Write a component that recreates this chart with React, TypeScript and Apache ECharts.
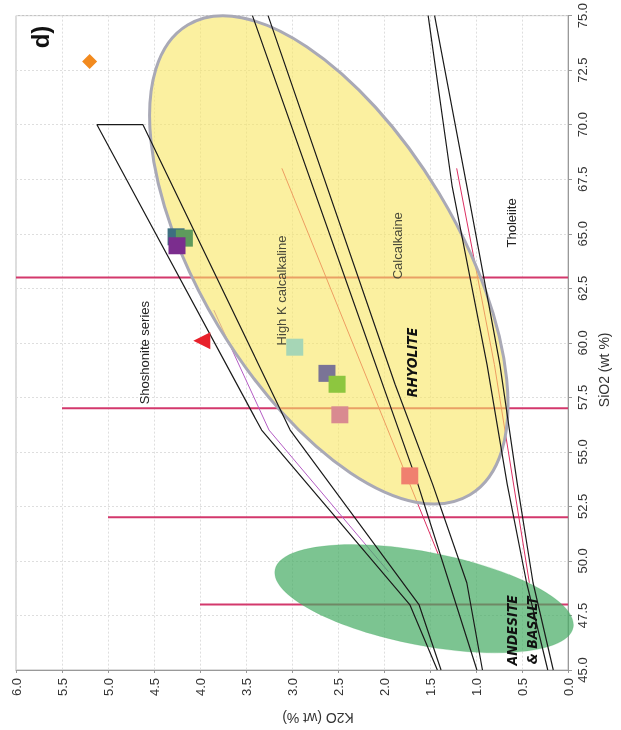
import React, { useEffect, useRef } from "react";
import * as echarts from "echarts";

// ---- data (K2O wt%, SiO2 wt%) ----
const siO2Cuts = [48, 52, 57, 63];
const cutTopK2O = [4.0, 5.0, 5.5, 6.0];

const shoshoniteUpper = [[1.42, 45], [1.72, 48], [3.33, 56], [5.12, 70]];
const shoshoniteLower = [[1.38, 45], [1.62, 48], [3.02, 56], [4.62, 70]];
const highKUpper = [[0.99, 45], [1.63, 53.5], [3.43, 75]];
const highKLower = [[0.93, 45], [1.1, 49], [1.47, 53.5], [1.88, 58.1], [3.26, 75]];
const tholeiiteUpper = [[0.22, 45], [0.45, 49], [0.66, 53.5], [0.88, 59], [1.26, 67.2], [1.52, 75]];
const tholeiiteLower = [[0.16, 45], [0.38, 49], [0.55, 53.5], [0.74, 59], [1.1, 67.2], [1.45, 75]];
const pinkShoshonite = [[1.95, 49.5], [3.25, 56], [3.85, 61.5]];
const pinkHighK = [[1.41, 50.3], [3.11, 68]];
const pinkTholeiite = [[0.42, 49], [0.8, 59], [1.21, 68]];

// ellipse: centre K2O, centre SiO2, major-axis end K2O, end SiO2, minor/major ratio
const rhyoliteEllipse = [2.6, 63.8, 1.065, 53.03, 0.47];
const andesiteEllipse = [1.564, 48.27, -0.056, 46.95, 0.307];

const sampleK2O = [5.2, 4.26, 4.17, 4.25, 3.98, 2.97, 2.62, 2.51, 2.48, 1.72];
const sampleSiO2 = [72.9, 64.86, 64.8, 64.45, 60.1, 59.8, 58.6, 58.1, 56.7, 53.9];
const sampleSymbols = ["diamond", "rect", "rect", "rect", "triangle", "rect", "rect", "rect", "rect", "rect"];
const sampleColors = ["#f28a1e", "#3d6f80", "#5e9a5c", "#7b2d8e", "#e8202a", "#a6d6b6", "#7a7496", "#8dc63f", "#d98a90", "#f0806f"];

const labelTexts = ["Shoshonite series", "High K calcalkaline", "Calcalkaine", "Tholeiite", "RHYOLITE", "ANDESITE\n& BASALT"];
const labelK2O = [4.6, 3.11, 1.85, 0.61, 1.7, 0.5];
const labelSiO2 = [59.55, 62.4, 64.45, 65.5, 59.1, 46.82];

const FONT = '"Liberation Sans", Arial, sans-serif';
const NARROW = '"Liberation Sans Narrow", "DejaVu Sans Condensed", "Liberation Sans", sans-serif';

function lineSeries(data: number[][], color: string, width: number, z: number) {
  return {
    type: "line",
    data,
    symbol: "none",
    silent: true,
    z,
    lineStyle: { color, width },
    animation: false,
  };
}

function ellipseSeries(values: number[], fill: string, stroke: string, lw: number) {
  return {
    type: "custom",
    coordinateSystem: "cartesian2d",
    silent: true,
    z: 2,
    data: [values],
    renderItem: (params: any, api: any) => {
      const c = api.coord([api.value(0), api.value(1)]);
      const e = api.coord([api.value(2), api.value(3)]);
      const dx = e[0] - c[0];
      const dy = e[1] - c[1];
      const a = Math.hypot(dx, dy);
      const b = a * api.value(4);
      return {
        type: "ellipse",
        x: c[0],
        y: c[1],
        rotation: -Math.atan2(dy, dx),
        shape: { cx: 0, cy: 0, rx: a, ry: b },
        style: { fill, stroke, lineWidth: lw },
      };
    },
  };
}

export default function App() {
  const ref = useRef<HTMLDivElement>(null);
  useEffect(() => {
    if (!ref.current) return;
    const chart = echarts.init(ref.current, null, { renderer: "svg" });

    const series: any[] = [];
    siO2Cuts.forEach((s, i) => {
      series.push(lineSeries([[0, s], [cutTopK2O[i], s]], "#d3386c", 2, 1));
    });
    series.push(lineSeries(pinkShoshonite, "#b45cc4", 1, 1));
    series.push(lineSeries(pinkHighK, "#dc2f62", 1, 1));
    series.push(lineSeries(pinkTholeiite, "#dc2f62", 1, 1));
    series.push(ellipseSeries(rhyoliteEllipse, "rgba(248,230,97,0.6)", "#a9a9b6", 3));
    series.push(ellipseSeries(andesiteEllipse, "rgba(69,171,98,0.7)", "rgba(69,171,98,0.2)", 1));
    series.push(lineSeries([...shoshoniteUpper, ...shoshoniteLower.slice().reverse()], "#1a1a1a", 1.2, 3));
    series.push(lineSeries(highKUpper, "#1a1a1a", 1.2, 3));
    series.push(lineSeries(highKLower, "#1a1a1a", 1.2, 3));
    series.push(lineSeries(tholeiiteUpper, "#1a1a1a", 1.2, 3));
    series.push(lineSeries(tholeiiteLower, "#1a1a1a", 1.2, 3));
    series.push({
      type: "scatter",
      z: 4,
      silent: true,
      data: sampleK2O.map((k, i) => ({
        value: [k, sampleSiO2[i]],
        symbol: sampleSymbols[i],
        symbolSize: sampleSymbols[i] === "diamond" ? 15 : 17,
        symbolRotate: sampleSymbols[i] === "triangle" ? 90 : 0,
        itemStyle: { color: sampleColors[i], opacity: 1 },
      })),
    });
    series.push({
      type: "custom",
      coordinateSystem: "cartesian2d",
      silent: true,
      z: 5,
      data: labelK2O.map((k, i) => [k, labelSiO2[i]]),
      renderItem: (params: any, api: any) => {
        const i = params.dataIndex;
        const p = api.coord([api.value(0), api.value(1)]);
        const bold = i >= 4;
        return {
          type: "text",
          x: p[0],
          y: p[1],
          rotation: Math.PI / 2,
          style: {
            text: labelTexts[i],
            fill: bold ? "#111" : i === 1 || i === 2 ? "#4a4a3a" : "#222",
            font: bold ? `italic bold 14px ${NARROW}` : `13px ${FONT}`,
            align: "center",
            verticalAlign: "middle",
            lineHeight: 20,
          },
        };
      },
    });

    chart.setOption({
      animation: false,
      grid: { left: 16, right: 53, top: 8, bottom: 60, show: true, borderColor: "#bbb", borderWidth: 1 },
      xAxis: {
        type: "value",
        min: 0,
        max: 6,
        interval: 0.5,
        inverse: true,
        position: "bottom",
        name: "K2O (wt %)",
        nameLocation: "middle",
        nameRotate: 180,
        nameGap: 41,
        nameTextStyle: { fontSize: 14, color: "#333", fontFamily: FONT, padding: [0, 52, 0, 0] },
        axisLine: { lineStyle: { color: "#999" } },
        axisTick: { show: true, length: 3, lineStyle: { color: "#999" } },
        axisLabel: { rotate: 90, fontSize: 13, color: "#333", fontFamily: FONT, formatter: (v: number) => v.toFixed(1) },
        splitLine: { show: true, lineStyle: { color: "#dedede", type: [2, 2] } },
      },
      yAxis: {
        type: "value",
        min: 45,
        max: 75,
        interval: 2.5,
        position: "right",
        name: "SiO2 (wt %)",
        nameLocation: "middle",
        nameRotate: 90,
        nameGap: 24,
        nameTextStyle: { fontSize: 14, color: "#333", fontFamily: FONT, padding: [0, 54, 0, 0] },
        axisLine: { show: true, lineStyle: { color: "#999" } },
        axisTick: { show: true, length: 4, lineStyle: { color: "#999" } },
        axisLabel: { rotate: 90, fontSize: 13, color: "#333", fontFamily: FONT, formatter: (v: number) => v.toFixed(1) },
        splitLine: { show: true, lineStyle: { color: "#dedede", type: [2, 2] } },
      },
      graphic: [
        {
          type: "text",
          x: 40,
          y: 37,
          rotation: Math.PI / 2,
          style: { text: "d)", font: `bold 24px ${FONT}`, fill: "#111", align: "center", verticalAlign: "middle" },
        },
      ],
      series,
    });
    return () => chart.dispose();
  }, []);
  return <div ref={ref} style={{ position: "fixed", left: 0, top: 0, width: 621, height: 730 }} />;
}
